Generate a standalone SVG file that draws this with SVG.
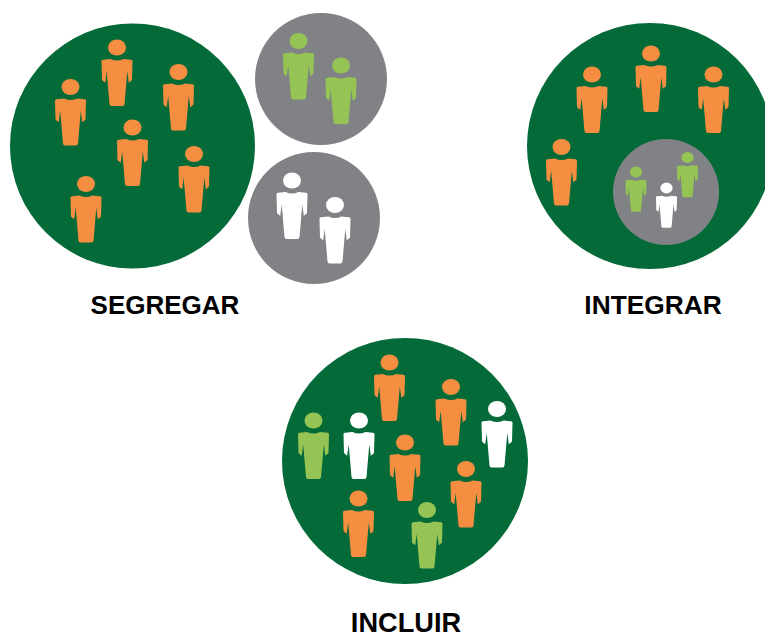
<svg xmlns="http://www.w3.org/2000/svg" width="765" height="634" viewBox="0 0 765 634">
<style>
.g{fill:#046a38}.c{fill:#808285}.o{fill:#f68e42}.l{fill:#95c454}.w{fill:#fff}
text{font-family:"Liberation Sans",Arial,sans-serif;font-weight:700;font-size:26px;fill:#000;text-anchor:middle}
</style>
<defs>
<g id="p"><ellipse cx="0" cy="0" rx="9" ry="8"/><path d="M-15.500 13.500Q-15.500 12.500-14 12.300L-6.500 11.500Q0 14.500 6.500 11.500L14 12.300Q15.500 12.500 15.500 13.500L15 32.500Q13.500 34 11.800 35.300L10.300 24L7.500 56.500Q7.300 58.500 5.500 58.500L-5.500 58.500Q-7.300 58.500-7.500 56.500L-10.300 24L-11.800 35.300Q-13.500 34-15 32.500Z"/></g>
</defs>
<rect width="765" height="634" fill="#fff"/>
<g id="segregar">
<circle class="g" cx="132.500" cy="146" r="122.500"/>
<use href="#p" class="o" x="117" y="47.500"/><use href="#p" class="o" x="70.500" y="87"/><use href="#p" class="o" x="178.500" y="72"/><use href="#p" class="o" x="132.500" y="127.500"/><use href="#p" class="o" x="194" y="154"/><use href="#p" class="o" x="86" y="184"/>
<circle class="c" cx="321" cy="79" r="66"/>
<use href="#p" class="l" x="298.500" y="41"/><use href="#p" class="l" x="341" y="65.500"/>
<circle class="c" cx="314" cy="218" r="66"/>
<use href="#p" class="w" x="292" y="180.500"/><use href="#p" class="w" x="335" y="205"/>
<text x="165" y="314">SEGREGAR</text>
</g>
<g id="integrar">
<circle class="g" cx="650" cy="146" r="123"/>
<use href="#p" class="o" x="592" y="74.500"/><use href="#p" class="o" x="651" y="53.500"/><use href="#p" class="o" x="713.500" y="74.500"/><use href="#p" class="o" x="561.500" y="147"/>
<circle class="c" cx="666" cy="192" r="53"/>
<use href="#p" class="l" transform="translate(636 172) scale(.68)"/><use href="#p" class="l" transform="translate(687.500 157.500) scale(.68)"/><use href="#p" class="w" transform="translate(666.500 188) scale(.68)"/>
<text x="653" y="314" style="font-size:26.300px">INTEGRAR</text>
</g>
<g id="incluir">
<circle class="g" cx="405" cy="461" r="123"/>
<use href="#p" class="o" x="389.500" y="362.500"/><use href="#p" class="o" x="451" y="387"/><use href="#p" class="o" x="405" y="442.500"/><use href="#p" class="o" x="466" y="469"/><use href="#p" class="o" x="358.500" y="498.500"/>
<use href="#p" class="l" x="313.500" y="420.500"/><use href="#p" class="l" x="427" y="510"/>
<use href="#p" class="w" x="359" y="420.500"/><use href="#p" class="w" x="497" y="409"/>
<text x="406" y="632" style="font-size:27.200px">INCLUIR</text>
</g>
</svg>
